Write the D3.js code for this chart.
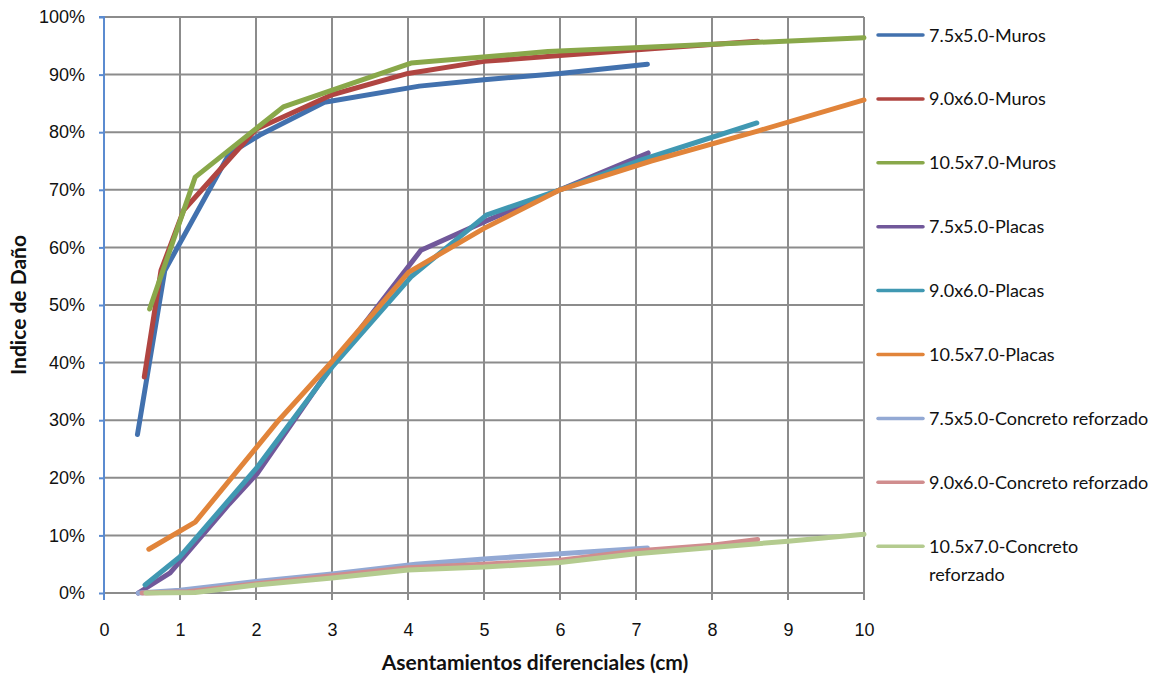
<!DOCTYPE html>
<html>
<head>
<meta charset="utf-8">
<script src="https://cdn.jsdelivr.net/npm/d3@7"></script>
<style>
  body { margin: 0; background: #fff; }
  svg { font-family: Lato, "Open Sans", sans-serif; }
  .grid line { stroke: #8c8c8c; stroke-width: 2; }
</style>
</head>
<body>
<svg id="chart" width="1167" height="679"></svg>
<script>
/*    ========    DATA    =========    */

var seriesNames = [
  "7.5x5.0-Muros", "9.0x6.0-Muros", "10.5x7.0-Muros",
  "7.5x5.0-Placas", "9.0x6.0-Placas", "10.5x7.0-Placas",
  "7.5x5.0-Concreto reforzado", "9.0x6.0-Concreto reforzado", "10.5x7.0-Concreto reforzado"
];

var seriesColors = [
  "#4271AE", "#B04541", "#89A84A",
  "#71589A", "#4098B2", "#E1843A",
  "#93A9D4", "#D08D8E", "#B4CB8F"
];

// [asentamiento (cm), indice de daño (%)]
var muros75 = [[0.44, 27.5], [0.8, 56], [1.65, 76.3], [2.05, 79.5], [2.9, 85.2], [4.15, 88], [5.0, 89.1], [6.0, 90.2], [7.15, 91.8]];
var muros90 = [[0.53, 37.5], [0.75, 56], [1.05, 66.5], [1.83, 78], [2.0, 80.5], [3.0, 86.5], [4.0, 90.2], [5.0, 92.3], [6.0, 93.3], [7.2, 94.5], [8.6, 95.8]];
var muros105 = [[0.6, 49.3], [1.2, 72.2], [2.36, 84.4], [4.04, 92], [5.84, 94], [7.2, 94.8], [8.6, 95.6], [10.0, 96.4]];
var placas75 = [[0.45, 0], [0.87, 3.5], [1.65, 15.5], [2.02, 20.8], [3.0, 39.5], [4.17, 59.5], [5.03, 64.6], [6.0, 70], [7.16, 76.4]];
var placas90 = [[0.54, 1.4], [1.0, 6.3], [2.02, 21.9], [3.0, 39.2], [4.04, 54.9], [5.03, 65.6], [6.0, 70], [7.03, 75], [8.59, 81.6]];
var placas105 = [[0.59, 7.6], [1.2, 12.3], [2.3, 30], [3.0, 40.2], [4.01, 55.7], [5.0, 63.3], [6.0, 70], [7.2, 75], [8.6, 80.2], [10.0, 85.6]];
var concreto75 = [[0.45, 0], [1.0, 0.5], [2.0, 2], [3.0, 3.3], [4.1, 5], [5.0, 5.9], [6.0, 6.8], [7.15, 7.8]];
var concreto90 = [[0.5, 0], [1.1, 0.2], [2.0, 1.6], [3.0, 3], [4.0, 4.4], [5.0, 5], [6.0, 5.7], [7.0, 7.3], [8.0, 8.3], [8.6, 9.3]];
var concreto105 = [[0.55, 0], [1.2, 0.1], [2.0, 1.4], [3.0, 2.6], [4.0, 4], [5.0, 4.5], [6.0, 5.3], [7.0, 6.8], [8.0, 7.9], [9.0, 9], [10.0, 10.2]];

var seriesData = [muros75, muros90, muros105, placas75, placas90, placas105, concreto75, concreto90, concreto105];

var xTicks = [0, 1, 2, 3, 4, 5, 6, 7, 8, 9, 10];
var yTicks = [0, 10, 20, 30, 40, 50, 60, 70, 80, 90, 100];

var xLabel = "Asentamientos diferenciales (cm)";
var yLabel = "Indice de Daño";

/*    ========    SETTINGS    =========    */

var svg = d3.select("#chart");

var plotLeft = 104, plotRight = 864, plotTop = 17, plotBottom = 593;

var xscale = d3.scaleLinear().domain([0, 10]).range([plotLeft, plotRight]);
var yscale = d3.scaleLinear().domain([0, 100]).range([plotBottom, plotTop]);

/*    ========    GRID & AXES    =========    */

var grid = svg.append("g").attr("class", "grid");

grid.selectAll("line.gx")
    .data(xTicks.slice(1))
    .enter().append("line")
    .attr("x1", function(d) { return xscale(d); })
    .attr("x2", function(d) { return xscale(d); })
    .attr("y1", plotTop)
    .attr("y2", plotBottom + 7);

grid.selectAll("line.gy")
    .data(yTicks)
    .enter().append("line")
    .attr("x1", plotLeft)
    .attr("x2", plotRight)
    .attr("y1", function(d) { return yscale(d); })
    .attr("y2", function(d) { return yscale(d); });

// y axis in blue, like the original
var yAxis = d3.axisLeft(yscale)
    .tickValues(yTicks)
    .tickSize(5)
    .tickPadding(14)
    .tickFormat(function(d) { return d + "%"; });

var gy = svg.append("g")
    .attr("transform", "translate(" + plotLeft + ",0)")
    .call(yAxis);
gy.select(".domain").attr("stroke", "#5B8BD0").attr("stroke-width", 2)
    .attr("d", "M-5," + plotTop + "H0V" + (plotBottom + 7));
gy.selectAll(".tick line").attr("stroke", "#5B8BD0").attr("stroke-width", 2);
gy.selectAll("text").attr("font-size", 18).attr("fill", "#111");

var xAxis = d3.axisBottom(xscale)
    .tickValues(xTicks)
    .tickSize(0)
    .tickPadding(30);

var gx = svg.append("g")
    .attr("transform", "translate(0," + plotBottom + ")")
    .call(xAxis);
gx.select(".domain").remove();
gx.selectAll("text").attr("font-size", 18).attr("fill", "#111");

svg.append("text")
    .attr("x", 535)
    .attr("y", 670)
    .attr("text-anchor", "middle")
    .attr("font-size", 21)
    .attr("font-weight", "bold")
    .attr("fill", "#111")
    .text(xLabel);

svg.append("text")
    .attr("transform", "translate(26,305) rotate(-90)")
    .attr("text-anchor", "middle")
    .attr("font-size", 21)
    .attr("font-weight", "bold")
    .attr("fill", "#111")
    .text(yLabel);

/*    ========    LINES    =========    */

var line = d3.line()
    .x(function(d) { return xscale(d[0]); })
    .y(function(d) { return yscale(d[1]); });

svg.append("g").selectAll("path")
    .data(seriesData)
    .enter().append("path")
    .attr("d", line)
    .attr("fill", "none")
    .attr("stroke", function(d, i) { return seriesColors[i]; })
    .attr("stroke-width", 5)
    .attr("stroke-linecap", "round")
    .attr("stroke-linejoin", "round");

/*    ========    LEGEND    =========    */

var legend = svg.append("g").attr("transform", "translate(878,35)");

var rows = legend.selectAll("g")
    .data(seriesNames)
    .enter().append("g")
    .attr("transform", function(d, i) { return "translate(0," + (i * 63.9) + ")"; });

rows.append("line")
    .attr("x1", 0).attr("x2", 45)
    .attr("stroke", function(d, i) { return seriesColors[i]; })
    .attr("stroke-width", 3.5)
    .attr("stroke-linecap", "round");

rows.append("text")
    .attr("x", 51)
    .attr("y", 6.5)
    .attr("font-size", 18)
    .attr("fill", "#111")
    .each(function(d, i) {
        var t = d3.select(this);
        if (i === seriesNames.length - 1) {
            var parts = d.split(" ");
            t.append("tspan").attr("x", 51).text(parts[0]);
            t.append("tspan").attr("x", 51).attr("dy", 28).text(parts[1]);
        } else {
            t.text(d);
        }
    });
</script>
</body>
</html>
